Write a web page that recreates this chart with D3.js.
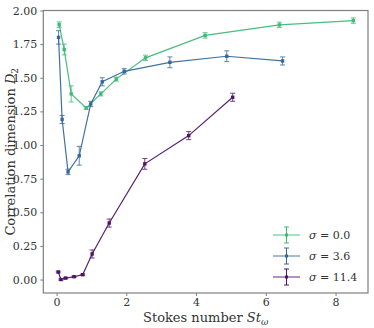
<!DOCTYPE html>
<html>
<head>
<meta charset="utf-8">
<script src="https://cdn.jsdelivr.net/npm/d3@7"></script>
<style>
  body { margin: 0; background: #fff; }
</style>
</head>
<body>
<div id="chart"></div>
<script>
// sigma = 0.0
const st0  = [0.075, 0.22, 0.42, 0.85, 1.27, 1.71, 2.55, 4.26, 6.39, 8.51];
const d2_0 = [1.895, 1.71, 1.38, 1.275, 1.38, 1.49, 1.648, 1.815, 1.893, 1.925];
const er0  = [0.02, 0.04, 0.06, 0.01, 0.015, 0.015, 0.02, 0.02, 0.02, 0.02];
// sigma = 3.6
const st1  = [0.057, 0.16, 0.33, 0.65, 0.98, 1.31, 1.94, 3.25, 4.88, 6.48];
const d2_1 = [1.80, 1.19, 0.80, 0.92, 1.305, 1.47, 1.548, 1.615, 1.66, 1.625];
const er1  = [0.05, 0.03, 0.02, 0.07, 0.02, 0.03, 0.02, 0.04, 0.04, 0.03];
// sigma = 11.4
const st2  = [0.05, 0.125, 0.26, 0.50, 0.75, 1.02, 1.51, 2.53, 3.79, 5.05];
const d2_2 = [0.056, 0.0, 0.011, 0.021, 0.036, 0.19, 0.42, 0.86, 1.07, 1.355];
const er2  = [0.006, 0.005, 0.005, 0.005, 0.005, 0.03, 0.03, 0.04, 0.03, 0.03];

const seriesNames = ["0.0", "3.6", "11.4"];
const seriesColors = ["#3dbb76", "#36699a", "#4f1468"];
const xTicks = [0, 2, 4, 6, 8];
const yTicks = [0, 0.25, 0.5, 0.75, 1.0, 1.25, 1.5, 1.75, 2.0];

const W = 374, H = 328;
const m = {top: 10.5, right: 6, bottom: 35, left: 43.3};
const serif = "DejaVu Serif";

const series = [[st0, d2_0, er0], [st1, d2_1, er1], [st2, d2_2, er2]].map((s, i) => ({
  name: seriesNames[i],
  color: seriesColors[i],
  pts: s[0].map((x, j) => ({x: x, y: s[1][j], e: s[2][j]}))
}));

const svg = d3.select("#chart").append("svg")
  .attr("width", W).attr("height", H)
  .attr("font-family", serif);

const x = d3.scaleLinear().domain([-0.38, 8.93]).range([m.left, W - m.right]);
const y = d3.scaleLinear().domain([-0.1, 2.0]).range([H - m.bottom, m.top]);

/** axes */
const frameColor = "#7f7f7f";
const xAxis = svg.append("g")
  .attr("transform", "translate(0," + (H - m.bottom) + ")")
  .call(d3.axisBottom(x).tickValues(xTicks).tickFormat(d3.format("d")).tickSizeOuter(0).tickSize(3).tickPadding(2));
const yAxis = svg.append("g")
  .attr("transform", "translate(" + m.left + ",0)")
  .call(d3.axisLeft(y).tickValues(yTicks).tickFormat(d3.format(".2f")).tickSizeOuter(0).tickSize(3).tickPadding(3));
[xAxis, yAxis].forEach(a => {
  a.attr("font-family", serif).attr("font-size", 11);
  a.select(".domain").remove();
  a.selectAll("line").attr("stroke", frameColor);
  a.selectAll("text").attr("fill", "#333");
});

// frame
svg.append("rect")
  .attr("x", m.left).attr("y", m.top)
  .attr("width", W - m.right - m.left).attr("height", H - m.bottom - m.top)
  .attr("fill", "none").attr("stroke", frameColor).attr("stroke-width", 1.2);

/** series */
const line = d3.line().x(d => x(d.x)).y(d => y(d.y));
const cap = 2.5;

series.forEach(s => {
  const g = svg.append("g");
  g.append("path").datum(s.pts)
    .attr("d", line).attr("fill", "none")
    .attr("stroke", s.color).attr("stroke-width", 1.2).attr("opacity", 0.95);
  const eb = g.selectAll(".eb").data(s.pts).enter().append("g")
    .attr("stroke", s.color).attr("stroke-width", 1).attr("opacity", 0.8);
  eb.append("line")
    .attr("x1", d => x(d.x)).attr("x2", d => x(d.x))
    .attr("y1", d => y(d.y - d.e)).attr("y2", d => y(d.y + d.e));
  eb.append("line")
    .attr("x1", d => x(d.x) - cap).attr("x2", d => x(d.x) + cap)
    .attr("y1", d => y(d.y - d.e)).attr("y2", d => y(d.y - d.e));
  eb.append("line")
    .attr("x1", d => x(d.x) - cap).attr("x2", d => x(d.x) + cap)
    .attr("y1", d => y(d.y + d.e)).attr("y2", d => y(d.y + d.e));
  g.selectAll(".pt").data(s.pts).enter().append("rect")
    .attr("x", d => x(d.x) - 1.7).attr("y", d => y(d.y) - 1.7)
    .attr("width", 3.4).attr("height", 3.4)
    .attr("fill", s.color);
});

/** legend */
const legend = svg.append("g").attr("transform", "translate(273,235)");
series.forEach((s, i) => {
  const row = legend.append("g").attr("transform", "translate(0," + (i * 21) + ")");
  row.append("line").attr("x1", 0).attr("x2", 27).attr("y1", 0).attr("y2", 0)
    .attr("stroke", s.color).attr("stroke-width", 1.5).attr("opacity", 0.6);
  row.append("line").attr("x1", 13.5).attr("x2", 13.5).attr("y1", -8).attr("y2", 8)
    .attr("stroke", s.color).attr("stroke-width", 1);
  row.append("line").attr("x1", 11).attr("x2", 16).attr("y1", -8).attr("y2", -8)
    .attr("stroke", s.color).attr("stroke-width", 1);
  row.append("line").attr("x1", 11).attr("x2", 16).attr("y1", 8).attr("y2", 8)
    .attr("stroke", s.color).attr("stroke-width", 1);
  row.append("rect").attr("x", 12).attr("y", -1.5).attr("width", 3).attr("height", 3)
    .attr("fill", s.color);
  const t = row.append("text").attr("x", 36).attr("y", 4).attr("font-size", 11).attr("fill", "#333");
  t.append("tspan").attr("font-style", "italic").text("σ");
  t.append("tspan").text(" = " + s.name);
});

/** axis labels */
const xl = svg.append("text")
  .attr("x", (m.left + W - m.right) / 2).attr("y", H - 6)
  .attr("text-anchor", "middle").attr("font-size", 13).attr("fill", "#333");
xl.append("tspan").text("Stokes number ");
xl.append("tspan").attr("font-style", "italic").text("St");
xl.append("tspan").attr("font-style", "italic").attr("font-size", 9).attr("dy", 3).text("ω");

const yl = svg.append("text")
  .attr("transform", "translate(15," + ((m.top + H - m.bottom) / 2) + ") rotate(-90)")
  .attr("text-anchor", "middle").attr("font-size", 13).attr("fill", "#333");
yl.append("tspan").text("Correlation dimension ");
yl.append("tspan").attr("font-style", "italic").text("D");
yl.append("tspan").attr("font-size", 9).attr("dy", 3).text("2");
</script>
</body>
</html>
